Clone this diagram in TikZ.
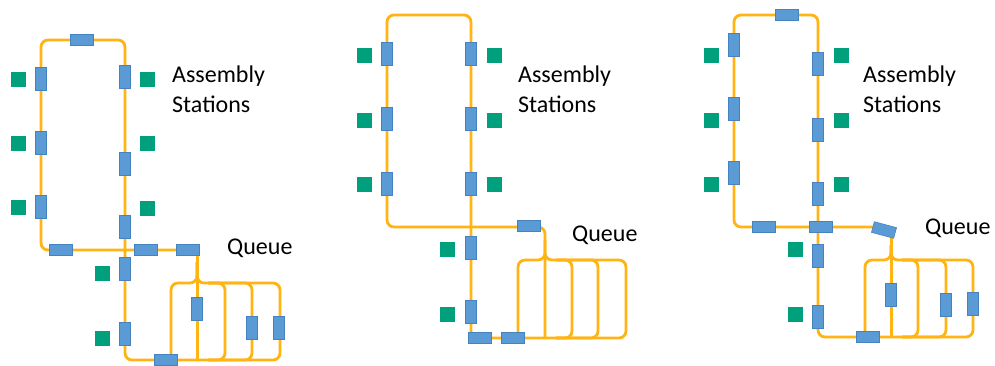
\documentclass[tikz,border=0pt]{standalone}
\usepackage{fontspec}
\setmainfont{Carlito}
\definecolor{trackc}{RGB}{255,180,20}
\definecolor{boxc}{RGB}{91,155,213}
\definecolor{boxb}{RGB}{70,130,190}
\definecolor{stnc}{RGB}{0,160,124}
\tikzset{
  track/.style={draw=trackc, line width=2.8pt, rounded corners=7pt},
  hbox/.style={rectangle, fill=boxc, draw=boxb, line width=0.6pt,
    minimum width=23pt, minimum height=11pt, inner sep=0pt},
  vbox/.style={hbox, minimum width=11pt, minimum height=23pt},
  stn/.style={rectangle, fill=stnc, minimum size=15pt, inner sep=0pt},
  lbl/.style={font=\fontsize{24pt}{30pt}\selectfont, inner sep=0pt, anchor=base west}
}
\begin{document}
\begin{tikzpicture}[x=1pt,y=-1pt]
\useasboundingbox (0,0) rectangle (995,365);

% ---------- layout 1 ----------
\draw[track] (197,250) -- (41,250) -- (41,40) -- (125,40) -- (125,360)
  -- (280,360) -- (280,283) -- (197,283) -- (197,262);
\draw[track] (197,262) -- (197,283) -- (171,283) -- (171,360);
\draw[track] (197.4,250) -- (197.4,360);
\foreach \q in {225,252}
  \draw[track] (208,283) -- (\q,283) -- (\q,360) -- (208,360);

\node[hbox] (a-top) at (82,40) {};
\node[vbox] (a-l1) at (41,79) {};
\node[vbox] (a-l2) at (41,143) {};
\node[vbox] (a-l3) at (41,207) {};
\node[vbox] (a-r1) at (125,77) {};
\node[vbox] (a-r2) at (125,164) {};
\node[vbox] (a-r3) at (125,227) {};
\node[hbox] (a-b1) at (61,250) {};
\node[hbox] (a-b2) at (146,250) {};
\node[hbox] (a-b3) at (188,250) {};
\node[vbox] (a-d1) at (125,269) {};
\node[vbox] (a-d2) at (125,334) {};
\node[hbox] (a-bot) at (166,360) {};
\node[vbox] (a-q1) at (197,309) {};
\node[vbox] (a-q2) at (252,328) {};
\node[vbox] (a-q3) at (279,328) {};
\foreach \n/\x/\y in {1/18/79,2/18/143,3/18/207,4/147/79,5/147/143,6/147/208,7/102/273,8/102/338}
  \node[stn] (a-s\n) at (\x,\y) {};
\node[lbl, align=left] (a-asm) at (172,112) {Assembly\\Stations};
\node[lbl] (a-que) at (227,254) {Queue};

% ---------- layout 2 ----------
\draw[track] (545,338) -- (545,227) -- (387,227) -- (387,15) -- (471,15) -- (471,338)
  -- (626,338) -- (626,260) -- (545,260) -- (545,240);
\draw[track] (545,240) -- (545,260) -- (518,260) -- (518,338);
\foreach \q in {572,598}
  \draw[track] (556,260) -- (\q,260) -- (\q,338) -- (556,338);

\node[vbox] (b-l1) at (387,54) {};
\node[vbox] (b-l2) at (387,119) {};
\node[vbox] (b-l3) at (387,184) {};
\node[vbox] (b-r1) at (471,54) {};
\node[vbox] (b-r2) at (471,119) {};
\node[vbox] (b-r3) at (471,184) {};
\node[hbox] (b-b1) at (529,226) {};
\node[vbox] (b-d1) at (471,248) {};
\node[vbox] (b-d2) at (471,312) {};
\node[hbox] (b-bot1) at (480,338) {};
\node[hbox] (b-bot2) at (513,338) {};
\foreach \n/\x/\y in {1/364/55,2/364/120,3/364/184,4/494/55,5/494/120,6/494/184,7/447/249,8/447/314}
  \node[stn] (b-s\n) at (\x,\y) {};
\node[lbl, align=left] (b-asm) at (518,112) {Assembly\\Stations};
\node[lbl] (b-que) at (572,241) {Queue};

% ---------- layout 3 ----------
\draw[track] (874,227) -- (734,227) -- (734,15) -- (818,15) -- (818,337)
  -- (973,337) -- (973,260) -- (891,260) -- (891,245);
\draw[track] (891.4,236) -- (891.4,337);
\draw[track] (891,245) -- (891,260) -- (865,260) -- (865,337);
\foreach \q in {918,946}
  \draw[track] (902,260) -- (\q,260) -- (\q,337) -- (902,337);

\node[hbox] (c-top) at (787,15) {};
\node[vbox] (c-l1) at (734,45) {};
\node[vbox] (c-l2) at (734,109) {};
\node[vbox] (c-l3) at (734,173) {};
\node[vbox] (c-r1) at (818,64) {};
\node[vbox] (c-r2) at (818,130) {};
\node[vbox] (c-r3) at (818,194) {};
\node[hbox] (c-b1) at (764,227) {};
\node[hbox] (c-b2) at (821,227) {};
\node[hbox, rotate=-15] (c-turn) at (884,230) {};
\node[vbox] (c-d1) at (818,256) {};
\node[vbox] (c-d2) at (818,317) {};
\node[hbox] (c-bot) at (868,337) {};
\node[vbox] (c-q1) at (891,295) {};
\node[vbox] (c-q2) at (946,305) {};
\node[vbox] (c-q3) at (973,304) {};
\foreach \n/\x/\y in {1/711/55,2/711/120,3/711/184,4/841/55,5/841/120,6/841/184,7/795/249,8/795/314}
  \node[stn] (c-s\n) at (\x,\y) {};
\node[lbl, align=left] (c-asm) at (863,112) {Assembly\\Stations};
\node[lbl] (c-que) at (925,234) {Queue};
\end{tikzpicture}
\end{document}
